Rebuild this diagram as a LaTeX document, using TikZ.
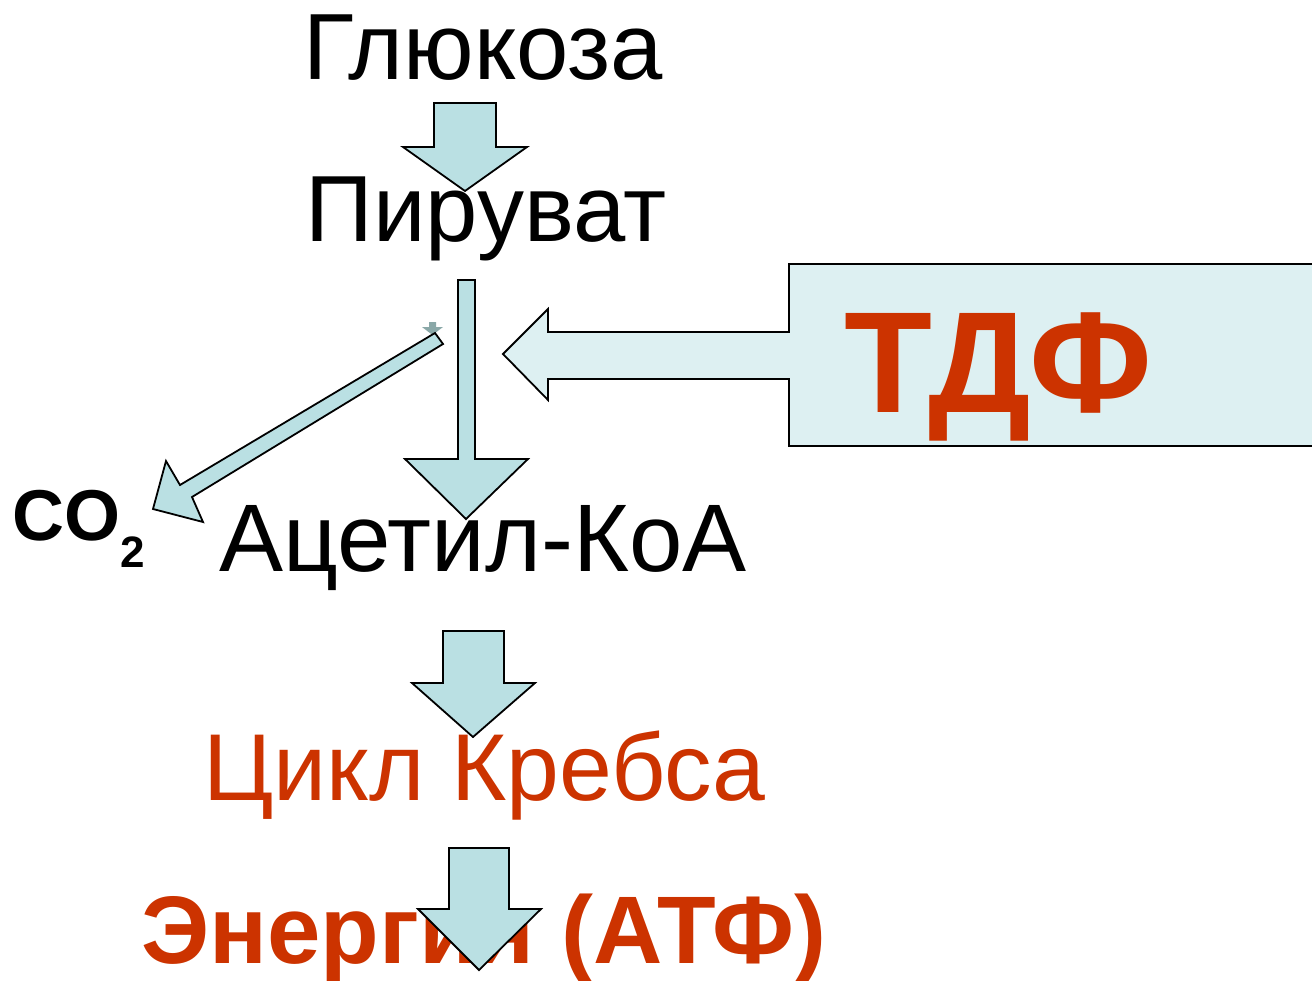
\documentclass[tikz,border=0pt]{standalone}
\usepackage{fontspec}
\setmainfont{Liberation Sans}
\definecolor{arrowfill}{RGB}{186,224,227}
\definecolor{calloutfill}{RGB}{221,240,242}
\definecolor{krebsred}{RGB}{204,51,0}
\definecolor{markgrey}{RGB}{138,168,168}
\begin{document}
\begin{tikzpicture}[x=1pt,y=-1pt,
  blockarrow/.style={draw=black,line width=1.8pt,fill=arrowfill,line join=miter},
  callout/.style={draw=black,line width=1.8pt,fill=calloutfill,line join=miter},
  txt/.style={inner sep=0pt,anchor=base},
  big/.style={font=\fontsize{94}{100}\selectfont},
  bigbold/.style={font=\fontsize{96}{100}\selectfont\bfseries}]
\useasboundingbox (0,0) rectangle (1312,980);
\clip (0,0) rectangle (1312,980);

% pathway labels
\node[txt,big] (glu) at (483,79) {Глюкоза};
\node[txt,big] (pyr) at (486,241) {Пируват};
\node[txt,big,font=\fontsize{96}{100}\selectfont] (acet) at (483,571) {Ацетил-КоА};
\node[txt,big,font=\fontsize{95}{100}\selectfont,text=krebsred] (krebs) at (484,800) {Цикл Кребса};
\node[txt,bigbold,text=krebsred] (atp) at (484,963) {Энергия (АТФ)};
\node[txt,anchor=base west,font=\fontsize{72}{80}\selectfont\bfseries] (co) at (12,540) {CO};
\node[txt,anchor=base west,font=\fontsize{44}{50}\selectfont\bfseries] (co2) at (120,567) {2};

% cofactor callout with its arrow pointing at the decarboxylation step
\path[callout] (1330,264) -- (789,264) -- (789,332) -- (548,332) -- (548,309)
  -- (503,354) -- (548,400) -- (548,379) -- (789,379) -- (789,446) -- (1330,446) -- cycle;
\node[txt,font=\fontsize{144}{150}\selectfont\bfseries,text=krebsred] (tdp) at (998,412) {ТДФ};

% glucose -> pyruvate
\path[blockarrow] (434,103) -- (496,103) -- (496,147) -- (527,147) -- (465,191)
  -- (403,147) -- (434,147) -- cycle;

% pyruvate -> acetyl-CoA
\path[blockarrow] (458,280) -- (475,280) -- (475,459) -- (528,459) -- (466,519)
  -- (405,459) -- (458,459) -- cycle;

% small marker at the start of the CO2 branch
\fill[markgrey] (429,322) -- (436,322) -- (436,327) -- (443,327) -- (432.5,335)
  -- (422,327) -- (429,327) -- cycle;

% pyruvate -> CO2
\path[blockarrow] (435,333) -- (443,344) -- (192,497) -- (203,522) -- (153,509)
  -- (166,461) -- (180,485) -- cycle;

% acetyl-CoA -> Krebs cycle
\path[blockarrow] (443,631) -- (504,631) -- (504,683) -- (535,683) -- (473,737)
  -- (412,683) -- (443,683) -- cycle;

% Krebs cycle -> energy
\path[blockarrow] (449,848) -- (509,848) -- (509,909) -- (541,909) -- (479,970)
  -- (418,909) -- (449,909) -- cycle;
\end{tikzpicture}
\end{document}
